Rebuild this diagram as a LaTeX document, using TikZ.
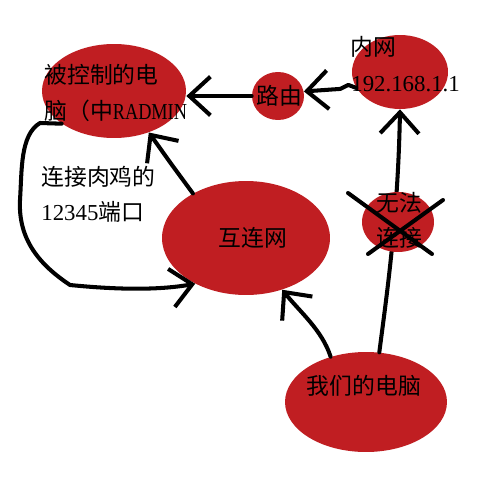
\documentclass[tikz,border=0pt]{standalone}
\usepackage{fontspec}
\setmainfont{Liberation Serif}
\newfontfamily\cjk{Noto Sans CJK SC}
\newfontfamily\narrowlatin[FakeStretch=0.8]{Liberation Serif}
\usetikzlibrary{shapes.geometric, arrows.meta, calc}
\definecolor{cus-red}{RGB}{192,30,34}

\tikzset{
	blob/.style = {ellipse, fill=cus-red, inner sep=0pt},
	cjktext/.style = {inner sep=0pt, font=\fontsize{13pt}{20pt}\selectfont\cjk},
	latintext/.style = {inner sep=0pt, font=\fontsize{13pt}{20pt}\selectfont\rmfamily},
	pen/.style = {line width=2.3pt, line cap=round, line join=round,
		-{Straight Barb[length=12pt, width=22pt, line width=2.3pt]}},
	crossline/.style = {line width=2.3pt, line cap=round}
}

\begin{document}
\begin{tikzpicture}[x=0.02cm, y=-0.02cm]
\fill [white] (0,0) rectangle (500,500);
\useasboundingbox (0,0) rectangle (500,500);

\node [blob, minimum width=2.88cm, minimum height=1.88cm] (pc) at (114,91) {};
\node [blob, minimum width=1.04cm, minimum height=0.96cm] (router) at (278,96) {};
\node [blob, minimum width=1.92cm, minimum height=1.48cm] (lan) at (400,72) {};
\node [blob, minimum width=3.36cm, minimum height=2.28cm] (net) at (246,238) {};
\node [blob, minimum width=3.24cm, minimum height=2.00cm] (mine) at (366,402) {};

\draw [pen] (router.west) -- (pc.east |- router.west);
\draw [pen] (lan.200) -- ++(-8,-3) -- ++(-8,4) -- (router.10);
\draw [pen] (mine.75) .. controls (386,300) and (398,220) .. (lan.south);
\draw [pen] (mine.128) .. controls (322,330) and (300,312) .. (net.-55);
\draw [pen] (net.140) -- (172,165) -- (pc.-50);
\draw [pen] (pc.212) -- (40,123) .. controls (20,135) and (22,170) .. (20,200)
	.. controls (18,240) and (40,265) .. (70,285)
	.. controls (120,290) and (160,290) .. (net.222);

\node [blob, minimum width=1.44cm, minimum height=1.2cm] (fail) at (398,222) {};

\node [cjktext, anchor=west, align=left] (pc-text) at (44,93)
	{被控制的电\\脑（中{\narrowlatin RADMIN}};
\node [cjktext] (router-text) at (279,96) {路由};
\node [cjktext] (lan-text) at (373,47) {内网};
\node [latintext, anchor=west] (lan-ip) at (351,84) {192.168.1.1};
\node [cjktext] (net-text) at (253,238) {互连网};
\node [cjktext] (mine-text) at (364,386) {我们的电脑};
\node [cjktext, align=center] (fail-text) at (399,220) {无法\\连接};
\node [cjktext, anchor=west, align=left] (port-text) at (41,194)
	{连接肉鸡的\\{\rmfamily 12345}端口};

\draw [crossline] ($(fail)+(-50,-29)$) -- ($(fail)+(34,32)$);
\draw [crossline] ($(fail)+(-30,32)$) -- ($(fail)+(45,-22)$);
\end{tikzpicture}
\end{document}
